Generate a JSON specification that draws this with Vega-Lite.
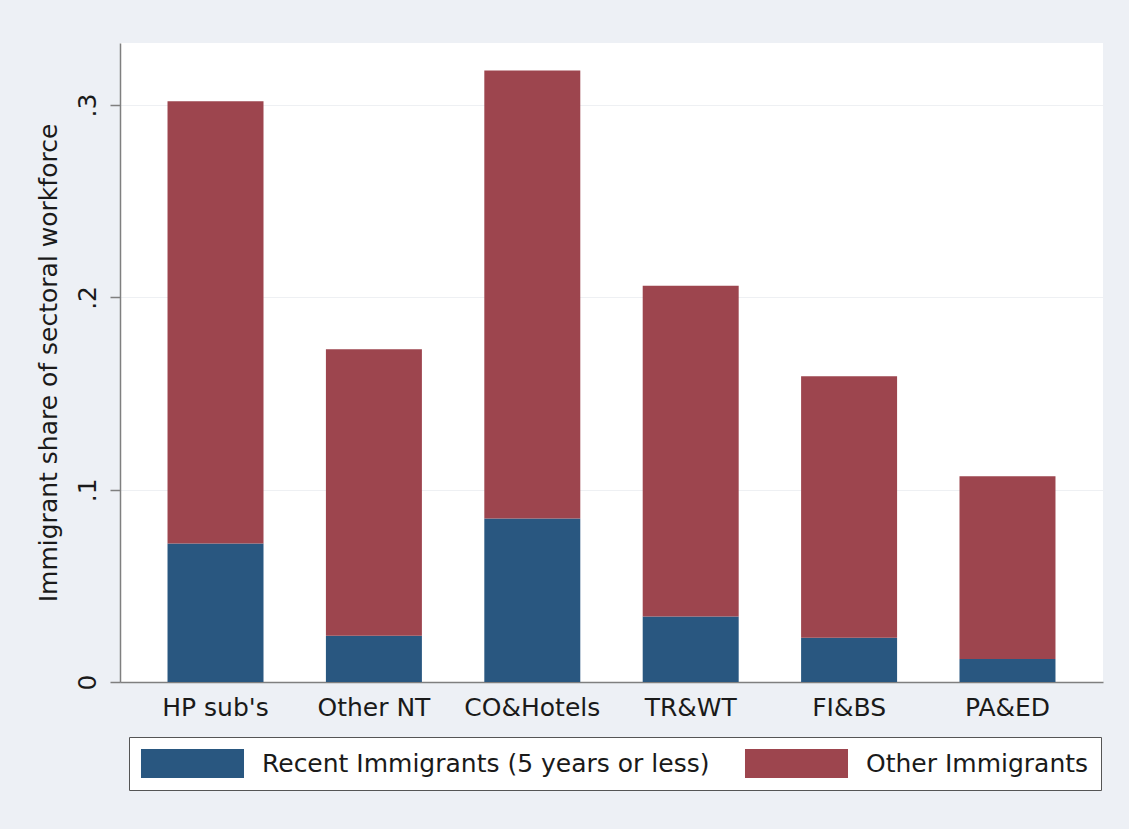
{
  "$schema": "https://vega.github.io/schema/vega-lite/v6.json",
  "autosize": "none",
  "width": 983,
  "height": 639,
  "padding": {"left": 120, "top": 43, "right": 26, "bottom": 147},
  "background": "#EDF0F5",
  "data": {
    "values": [
      {"sector": "HP sub's", "group": "Recent Immigrants (5 years or less)", "share": 0.072},
      {"sector": "HP sub's", "group": "Other Immigrants", "share": 0.230},
      {"sector": "Other NT", "group": "Recent Immigrants (5 years or less)", "share": 0.024},
      {"sector": "Other NT", "group": "Other Immigrants", "share": 0.149},
      {"sector": "CO&Hotels", "group": "Recent Immigrants (5 years or less)", "share": 0.085},
      {"sector": "CO&Hotels", "group": "Other Immigrants", "share": 0.233},
      {"sector": "TR&WT", "group": "Recent Immigrants (5 years or less)", "share": 0.034},
      {"sector": "TR&WT", "group": "Other Immigrants", "share": 0.172},
      {"sector": "FI&BS", "group": "Recent Immigrants (5 years or less)", "share": 0.023},
      {"sector": "FI&BS", "group": "Other Immigrants", "share": 0.136},
      {"sector": "PA&ED", "group": "Recent Immigrants (5 years or less)", "share": 0.012},
      {"sector": "PA&ED", "group": "Other Immigrants", "share": 0.095}
    ]
  },
  "mark": {"type": "bar"},
  "encoding": {
    "x": {
      "field": "sector",
      "type": "nominal",
      "sort": null,
      "scale": {"paddingInner": 0.394, "paddingOuter": 0.3},
      "axis": {
        "title": null,
        "labelAngle": 0,
        "labelPadding": 13,
        "ticks": false,
        "domainColor": "#7f7f7f",
        "domainWidth": 1.5,
        "grid": false
      }
    },
    "y": {
      "field": "share",
      "type": "quantitative",
      "stack": "zero",
      "scale": {"domain": [0, 0.3323], "nice": false, "zero": true},
      "axis": {
        "title": "Immigrant share of sectoral workforce",
        "values": [0, 0.1, 0.2, 0.3],
        "labelExpr": "datum.value == 0 ? '0' : replace(format(datum.value, '.1f'), '0.', '.')",
        "labelAngle": -90,
        "labelAlign": "center",
        "labelBaseline": "bottom",
        "labelPadding": 10,
        "tickSize": 10,
        "tickColor": "#7f7f7f",
        "tickWidth": 1.5,
        "domainColor": "#7f7f7f",
        "domainWidth": 1.5,
        "grid": true,
        "gridColor": "#EEF0F3",
        "gridWidth": 1,
        "titlePadding": 14
      }
    },
    "color": {
      "field": "group",
      "type": "nominal",
      "sort": ["Recent Immigrants (5 years or less)", "Other Immigrants"],
      "scale": {
        "domain": ["Recent Immigrants (5 years or less)", "Other Immigrants"],
        "range": ["#295780", "#9D454E"]
      },
      "legend": {
        "title": null,
        "orient": "none",
        "legendX": 9,
        "legendY": 694,
        "direction": "horizontal",
        "symbolType": "M-3.552,-1H3.552V1H-3.552Z",
        "symbolSize": 841,
        "symbolOffset": 37,
        "symbolStrokeWidth": 0,
        "labelOffset": 55,
        "columnPadding": 34,
        "padding": 12,
        "strokeColor": "#555555",
        "fillColor": "#ffffff",
        "cornerRadius": 0
      }
    }
  },
  "config": {
    "font": "DejaVu Sans",
    "view": {"fill": "#ffffff", "stroke": null},
    "axis": {
      "labelFont": "DejaVu Sans",
      "labelFontSize": 25,
      "labelColor": "#1a1a1a",
      "titleFont": "DejaVu Sans",
      "titleFontSize": 25,
      "titleFontWeight": "normal",
      "titleColor": "#1a1a1a"
    },
    "legend": {
      "labelFont": "DejaVu Sans",
      "labelFontSize": 25,
      "labelColor": "#1a1a1a",
      "labelLimit": 600
    }
  }
}
